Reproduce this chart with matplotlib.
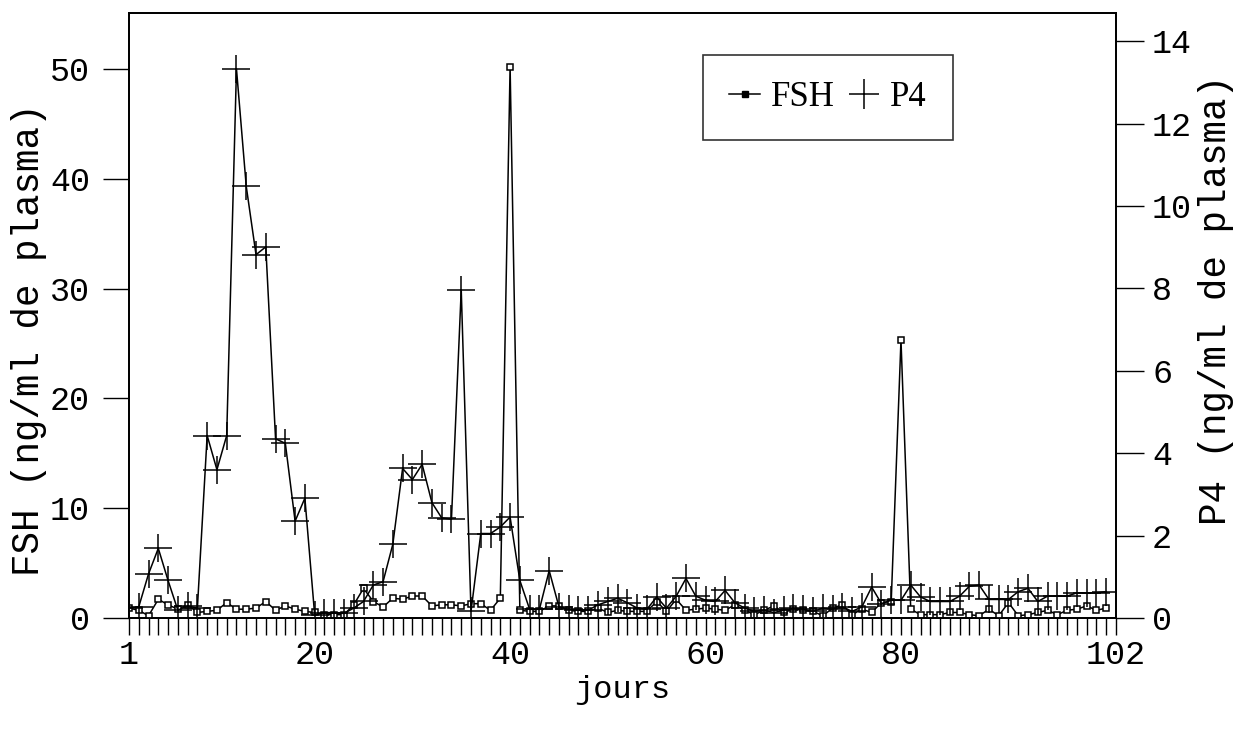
import matplotlib
matplotlib.use('Agg')
import matplotlib.pyplot as plt
from matplotlib.lines import Line2D
from matplotlib.ticker import FixedLocator, MultipleLocator

# jours de prelevement
jours = list(range(1, 102))

# FSH (ng/ml de plasma), axe gauche
fsh = [0.9, 0.7, 0.2, 1.7, 1.2, 0.8, 1.2, 0.5, 0.6, 0.7,
       1.4, 0.8, 0.8, 0.9, 1.5, 0.7, 1.1, 0.8, 0.6, 0.5,
       0.3, 0.3, 0.3, 1.2, 2.7, 1.5, 1.0, 1.8, 1.7, 2.0,
       2.0, 1.1, 1.2, 1.2, 1.1, 1.3, 1.3, 0.7, 1.8, 50.2,
       0.7, 0.6, 0.6, 1.1, 1.1, 0.7, 0.6, 0.6, 0.9, 0.5,
       0.7, 0.6, 0.6, 0.6, 1.5, 0.6, 1.7, 0.7, 0.8, 0.9,
       0.8, 0.7, 1.2, 0.7, 0.3, 0.7, 1.1, 0.5, 0.8, 0.7,
       0.6, 0.2, 0.9, 1.2, 0.3, 0.8, 0.5, 1.4, 1.5, 25.3,
       0.8, 0.3, 0.3, 0.3, 0.5, 0.5, 0.3, 0.2, 0.8, 0.2,
       1.4, 0.2, 0.3, 0.5, 0.7, 0.3, 0.7, 0.8, 1.1, 0.7,
       0.9]

# P4 (ng/ml de plasma), axe droit
p4 = [0.24, 0.27, 1.07, 1.69, 0.91, 0.19, 0.29, 0.24, 4.43, 3.60,
      4.43, 13.33, 10.48, 8.82, 9.01, 4.35, 4.24, 2.35, 2.91, 0.08,
      0.13, 0.13, 0.11, 0.24, 0.40, 0.80, 0.88, 1.79, 3.63, 3.36,
      3.73, 2.80, 2.43, 2.40, 7.97, 0.16, 2.05, 2.05, 2.21, 2.45,
      0.91, 0.21, 0.21, 1.15, 0.27, 0.21, 0.19, 0.19, 0.32, 0.40,
      0.48, 0.37, 0.24, 0.21, 0.51, 0.24, 0.53, 0.96, 0.53, 0.43,
      0.40, 0.67, 0.37, 0.24, 0.16, 0.19, 0.13, 0.19, 0.24, 0.21,
      0.16, 0.24, 0.21, 0.27, 0.16, 0.27, 0.75, 0.35, 0.43, 0.43,
      0.80, 0.51, 0.40, 0.40, 0.40, 0.53, 0.77, 0.80, 0.45, 0.45,
      0.45, 0.64, 0.72, 0.40, 0.53, 0.53, 0.53, 0.61, 0.61, 0.61,
      0.64]

xticks = [1, 20, 40, 60, 80, 102]
fsh_ticks = [0, 10, 20, 30, 40, 50]
p4_ticks = [0, 2, 4, 6, 8, 10, 12, 14]

police = 'Liberation Mono'
plt.rcParams['font.family'] = [police, 'DejaVu Sans']

fig = plt.figure(figsize=(12.39, 7.29), dpi=100)
ax = fig.add_axes([0.1041, 0.1523, 0.7966, 0.83])
ax2 = ax.twinx()

# FSH : petits carres, P4 : croix
ax.plot(jours, fsh, color='black', lw=1.1, marker='s', ms=4.5,
        mfc='white', mec='black', mew=1.1, zorder=3)
ax2.plot(jours, p4, color='black', lw=1.1, marker='+', ms=20,
         mew=1.1, zorder=3)

ax.set_xlim(1, 102)
ax.set_ylim(0, 55.1)
ax2.set_ylim(0, 14.69)

ax.xaxis.set_major_locator(FixedLocator(xticks))
ax.xaxis.set_minor_locator(MultipleLocator(1))
ax.set_xticklabels([str(t) for t in xticks])
ax.set_yticks(fsh_ticks)
ax2.set_yticks(p4_ticks)

ax.tick_params(axis='x', which='both', direction='out', length=12,
               width=1, pad=4, labelsize=24)
ax.tick_params(axis='y', direction='out', length=19, width=1,
               pad=9, labelsize=24)
ax2.tick_params(axis='y', direction='out', length=20, width=1,
                pad=6, labelsize=24)

for a in (ax, ax2):
    for s in a.spines.values():
        s.set_linewidth(1.3)

ax.set_xlabel('jours', fontsize=23, labelpad=3)
ax.set_ylabel('FSH (ng/ml de plasma)', fontsize=27)
ax2.set_ylabel('P4 (ng/ml de plasma)', fontsize=27)
# l'ancre est le bord du texte cote axe
ax.yaxis.set_label_coords(-0.083, 0.46)
ax2.yaxis.set_label_coords(1.083, 0.525)

handles = [Line2D([], [], color='black', lw=1.1, marker='s', ms=4),
           Line2D([], [], color='black', lw=0, marker='+', ms=22, mew=1.1)]
leg = ax2.legend(handles, ['FSH', 'P4'], loc='upper left',
                 bbox_to_anchor=(0.5815, 0.9306), ncol=2,
                 frameon=True, fancybox=False, handlelength=0.9,
                 handletextpad=0.3, columnspacing=0.4, borderpad=0.75,
                 borderaxespad=0,
                 prop={'family': 'Liberation Serif', 'size': 25})
leg.get_frame().set_edgecolor('black')
leg.get_frame().set_linewidth(1.2)

fig.savefig('out.png', dpi=100)
